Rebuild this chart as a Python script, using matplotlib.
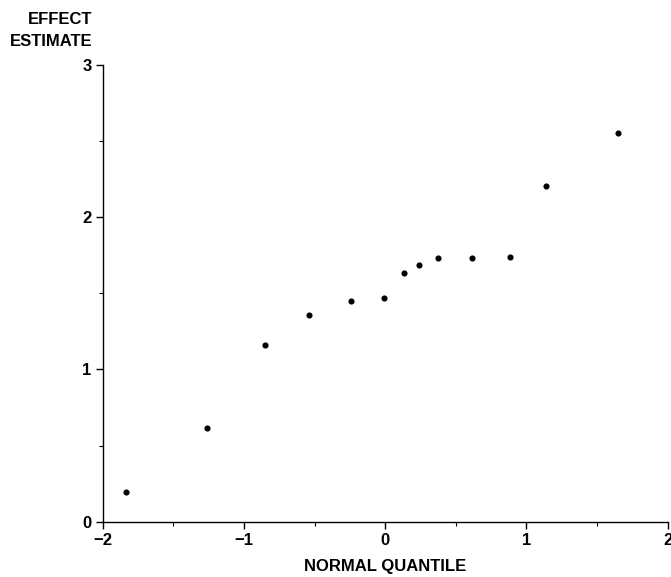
import matplotlib
matplotlib.use("Agg")
from matplotlib import pyplot as plt
from matplotlib.ticker import MultipleLocator

# normal quantiles vs. ordered effect estimates
quantile = [-1.835, -1.259, -0.849, -0.537, -0.240, -0.008, 0.131, 0.239,
            0.376, 0.617, 0.884, 1.138, 1.646]
effect = [0.193, 0.614, 1.163, 1.356, 1.450, 1.472, 1.634, 1.689,
          1.731, 1.735, 1.739, 2.208, 2.552]

xticks = [-2, -1, 0, 1, 2]
yticks = [0, 1, 2, 3]

plt.rcParams['font.family'] = ['Liberation Sans', 'DejaVu Sans']
plt.rcParams['font.weight'] = 'bold'

fig = plt.figure(figsize=(6.71, 5.77), dpi=100)
ax = fig.add_axes([102.7 / 671, 1 - 521.7 / 577, 565 / 671, 456.7 / 577])

ax.plot(quantile, effect, 'o', color='black', markersize=3.4, clip_on=False)

ax.set_xlim(-2, 2)
ax.set_ylim(0, 3)
ax.set_xticks(xticks)
ax.set_yticks(yticks)
ax.xaxis.set_minor_locator(MultipleLocator(0.5))
ax.yaxis.set_minor_locator(MultipleLocator(0.5))

for side in ('top', 'right'):
    ax.spines[side].set_visible(False)
for side in ('left', 'bottom'):
    ax.spines[side].set_linewidth(1.0)

ax.tick_params(which='major', length=5, width=1.0, labelsize=12, pad=3)
ax.tick_params(which='minor', length=3, width=0.8)
ax.tick_params(axis='x', which='major', pad=3)

ax.set_xlabel('NORMAL QUANTILE', fontsize=12, fontweight='bold', labelpad=8)
fig.text(92.7 / 671, 1 - 19 / 577, 'EFFECT', ha='right', va='center',
         fontsize=12, fontweight='bold')
fig.text(92.7 / 671, 1 - 41.7 / 577, 'ESTIMATE', ha='right', va='center',
         fontsize=12, fontweight='bold')

fig.savefig('out.png', dpi=100)
